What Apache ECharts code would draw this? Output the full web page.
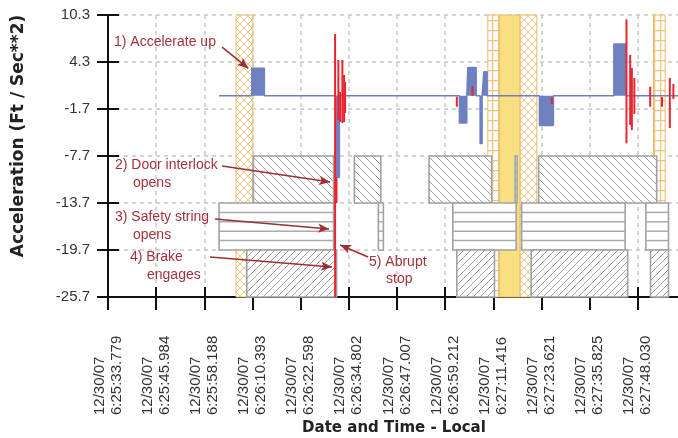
<!DOCTYPE html>
<html>
<head>
<meta charset="utf-8">
<script src="https://cdn.jsdelivr.net/npm/echarts@6/dist/echarts.min.js"></script>
<style>
  html, body { margin: 0; background: #fff; }
  #chart { width: 678px; height: 438px; }
</style>
</head>
<body>
<div id="chart"></div>
<script>
// time is seconds after 12/30/07 6:25:33.779
const tickStep = 12.20464;
const tickDate = '12/30/07';
const tickTimes = ['6:25:33.779', '6:25:45.984', '6:25:58.188', '6:26:10.393', '6:26:22.598', '6:26:34.802',
  '6:26:47.007', '6:26:59.212', '6:27:11.416', '6:27:23.621', '6:27:35.825', '6:27:48.030'];
const yMin = -25.7, yMax = 10.3, yStep = 6;

// acceleration trace: flat at 0 from start to end, with pulses [from, to, value]
const accelStart = 28.13;
const accelEnd = 146.46;
const accelPulses = [
  [36.42, 39.62, 3.5],
  [57.79, 58.63, -10.4],
  [89.04, 90.92, -3.5],
  [91.17, 93.28, 3.6],
  [94.29, 94.80, -6.1],
  [95.23, 96.07, 3.06],
  [109.32, 112.87, -3.8],
  [128.18, 131.22, 6.6]
];
// vibration spikes [time, low, high]
const spikes = [
  [57.54, -25.7, 7.87],
  [57.90, -13.7, -10.4],
  [58.37, -3.10, 4.56],
  [58.81, -3.36, 0.47],
  [59.39, -3.49, 4.56],
  [59.82, -3.36, 2.64],
  [60.07, -2.21, 1.75],
  [88.38, -1.41, -0.13],
  [92.34, -0.04, 1.24],
  [112.47, -1.06, -0.17],
  [131.37, -6.08, 9.75],
  [132.31, -3.74, 5.19],
  [132.74, -4.38, 3.53],
  [133.37, -2.34, 2.26],
  [137.38, -1.41, 1.15],
  [140.37, -1.41, -0.17],
  [142.35, -4.13, 2.26],
  [143.26, -0.42, 1.49]
];

// state rows (value bands) and their on-intervals [from, to]
const rowRanges = [[-7.7, -13.7], [-13.7, -19.7], [-19.7, -25.7]];
const doorInterlock = [[36.83, 57.16], [62.43, 69.12], [81.36, 97.21], [103.16, 103.67], [109.12, 139.03]];
const safetyString = [[28.14, 57.16], [68.51, 69.78], [87.37, 103.42], [104.81, 131.04], [136.29, 142.02]];
const brake = [[35.16, 57.92], [88.38, 97.92], [107.22, 131.68], [137.46, 142.02]];

// background event bands [from, to]
const crossBands = [[32.44, 36.68], [104.43, 108.66]];
const gridBands = [[96.24, 99.18], [138.22, 141.18]];
const solidBands = [[99.18, 104.43]];

// annotations: arrows [[t, v] from, [t, v] to], text lines [text, x, y]
const arrows = [
  [[28.90, 6.21], [35.56, 3.50]],
  [[28.90, -8.98], [56.27, -11.02]],
  [[27.12, -15.74], [56.02, -17.02]],
  [[25.85, -20.59], [56.78, -21.87]],
  [[65.90, -20.59], [58.81, -19.06]]
];
const notes = [
  ['1) Accelerate up', 114, 42],
  ['2) Door interlock', 115, 165], ['opens', 133, 183],
  ['3) Safety string', 115, 217], ['opens', 133, 235],
  ['4) Brake', 130, 257], ['engages', 147, 275],
  ['5) Abrupt', 369, 262], ['stop', 386, 279]
];

function makePattern(w, h, draw) {
  const c = document.createElement('canvas');
  c.width = w; c.height = h;
  const ctx = c.getContext('2d');
  ctx.fillStyle = '#fff';
  ctx.fillRect(0, 0, w, h);
  draw(ctx, w, h);
  return { image: c, repeat: 'repeat' };
}
function diag(ctx, s, forward) {
  for (let x0 = -s; x0 <= s; x0 += s) {
    ctx.beginPath();
    if (forward) { ctx.moveTo(x0 + s, 0); ctx.lineTo(x0, s); }
    else { ctx.moveTo(x0, 0); ctx.lineTo(x0 + s, s); }
    ctx.stroke();
  }
}
const backHatch = makePattern(8, 8, function (ctx, w) {
  ctx.strokeStyle = '#9c9c9c'; ctx.lineWidth = 1; diag(ctx, w, false);
});
const fwdHatch = makePattern(7, 7, function (ctx, w) {
  ctx.strokeStyle = '#9c9c9c'; ctx.lineWidth = 1; diag(ctx, w, true);
});
const orangeCross = makePattern(8, 8, function (ctx, w) {
  ctx.strokeStyle = '#f1c27c'; ctx.lineWidth = 1;
  diag(ctx, w, false); diag(ctx, w, true);
});
const orangeGrid = makePattern(6, 10, function (ctx) {
  ctx.strokeStyle = '#f1c27c'; ctx.lineWidth = 1.5;
  ctx.beginPath(); ctx.moveTo(0.5, 0); ctx.lineTo(0.5, 10); ctx.moveTo(0, 0.5); ctx.lineTo(6, 0.5); ctx.stroke();
});

function bandSeries(data, fill) {
  return {
    type: 'custom', z: 1, silent: true, data: data,
    encode: { x: [0, 1] },
    renderItem: function (params, api) {
      const a = api.coord([api.value(0), yMax]);
      const b = api.coord([api.value(1), yMin]);
      return {
        type: 'rect',
        shape: { x: a[0], y: a[1], width: b[0] - a[0], height: b[1] - a[1] },
        style: { fill: fill, stroke: '#efb869', lineWidth: 1 }
      };
    }
  };
}

function rowSeries(data, row, fill) {
  return {
    type: 'custom', z: 3, silent: true, data: data,
    encode: { x: [0, 1] },
    renderItem: function (params, api) {
      const r = rowRanges[row];
      const a = api.coord([api.value(0), r[0]]);
      const b = api.coord([api.value(1), r[1]]);
      const x = a[0], y = a[1], w = b[0] - a[0], h = b[1] - a[1];
      const children = [{
        type: 'rect', shape: { x: x, y: y, width: w, height: h },
        style: { fill: fill || '#fff', stroke: '#9ea2a6', lineWidth: 1.6 }
      }];
      if (!fill) {
        for (let k = 1; k < 5; k++) {
          const ly = y + h * k / 5;
          children.push({
            type: 'line', shape: { x1: x, y1: ly, x2: x + w, y2: ly },
            style: { stroke: '#a7abaf', lineWidth: 1.5 }
          });
        }
      }
      return { type: 'group', children: children };
    }
  };
}

const accelData = [[accelStart, 0]];
accelPulses.forEach(function (p) {
  accelData.push([p[0], 0], [p[0], p[2]], [p[1], p[2]], [p[1], 0]);
});
accelData.push([accelEnd, 0]);

const chart = echarts.init(document.getElementById('chart'));

const xBase = {
  type: 'value', min: 0, max: tickStep * 12, interval: tickStep, position: 'bottom', offset: 0
};
const yBase = {
  type: 'value', min: yMin, max: yMax, interval: yStep, position: 'left', offset: 0
};

chart.setOption({
  animation: false,
  grid: { left: 108, top: 15, width: 578, height: 282, outerBoundsMode: 'none', containLabel: false },
  xAxis: [
    Object.assign({}, xBase, {
      axisLine: { onZero: false, lineStyle: { color: '#111', width: 2 } },
      axisTick: { length: 13, lineStyle: { color: '#111', width: 2 } },
      splitLine: { show: true, lineStyle: { color: '#c8c8c8', width: 1.5, type: [4, 4] } },
      axisLabel: {
        rotate: 90, align: 'left', verticalAlign: 'middle', margin: 118,
        fontFamily: "'Liberation Sans Narrow', 'Arial Narrow', sans-serif",
        fontSize: 15, lineHeight: 17, color: '#333',
        formatter: function (v) {
          const i = Math.round(v / tickStep);
          if (Math.abs(v - i * tickStep) > 1e-4 || !tickTimes[i]) return '';
          return tickDate + '\n' + tickTimes[i];
        }
      }
    }),
    Object.assign({}, xBase, {
      axisLine: { show: false, onZero: false },
      axisTick: { inside: true, length: 10, lineStyle: { color: '#111', width: 2 } },
      splitLine: { show: false },
      axisLabel: { show: false }
    })
  ],
  yAxis: [
    Object.assign({}, yBase, {
      axisLine: { onZero: false, lineStyle: { color: '#111', width: 2 } },
      axisTick: { length: 11, lineStyle: { color: '#111', width: 2 } },
      splitLine: { show: true, lineStyle: { color: '#c8c8c8', width: 1.5, type: [4, 4] } },
      axisLabel: {
        margin: 18, fontFamily: "'Liberation Sans', Arial, sans-serif", fontSize: 15, color: '#333',
        formatter: function (v) { return v.toFixed(1); }
      }
    }),
    Object.assign({}, yBase, {
      axisLine: { show: false, onZero: false },
      axisTick: { inside: true, length: 11, lineStyle: { color: '#111', width: 2 } },
      splitLine: { show: false },
      axisLabel: { show: false }
    })
  ],
  series: [
    bandSeries(solidBands, '#f7df82'),
    bandSeries(gridBands, orangeGrid),
    bandSeries(crossBands, orangeCross),
    rowSeries(doorInterlock, 0, backHatch),
    rowSeries(safetyString, 1, null),
    rowSeries(brake, 2, fwdHatch),
    {
      type: 'line', z: 5, data: accelData, showSymbol: false, silent: true,
      lineStyle: { color: '#6f80c1', width: 1.5 },
      areaStyle: { color: '#6f80c1', opacity: 1 },
      markLine: {
        silent: true, symbol: ['none', 'arrow'], symbolSize: [7, 11],
        label: { show: false },
        lineStyle: { color: '#9e2d36', width: 1.6, type: 'solid' },
        data: arrows.map(function (a) { return [{ coord: a[0] }, { coord: a[1] }]; })
      }
    },
    {
      type: 'custom', z: 6, silent: true, data: spikes,
      encode: { x: 0, y: [1, 2] },
      renderItem: function (params, api) {
        const a = api.coord([api.value(0), api.value(1)]);
        const b = api.coord([api.value(0), api.value(2)]);
        return {
          type: 'line', shape: { x1: a[0], y1: a[1], x2: b[0], y2: b[1] },
          style: { stroke: '#e8262e', lineWidth: 2 }
        };
      }
    }
  ],
  graphic: notes.map(function (n) {
    return {
      type: 'text', x: n[1], y: n[2], z: 10, silent: true,
      style: {
        text: n[0], align: 'left', verticalAlign: 'middle',
        font: "14px 'Liberation Sans', Arial, sans-serif", fill: '#a3323b'
      }
    };
  }).concat([
    {
      type: 'text', x: 19, y: 136, rotation: Math.PI / 2, z: 10, silent: true,
      style: {
        text: 'Acceleration (Ft / Sec**2)', align: 'center', verticalAlign: 'middle',
        font: "bold 17px 'DejaVu Sans', sans-serif", fill: '#222'
      }
    },
    {
      type: 'text', x: 394, y: 428, z: 10, silent: true,
      style: {
        text: 'Date and Time - Local', align: 'center', verticalAlign: 'middle',
        font: "bold 15px 'DejaVu Sans', sans-serif", fill: '#222'
      }
    }
  ])
});
</script>
</body>
</html>
